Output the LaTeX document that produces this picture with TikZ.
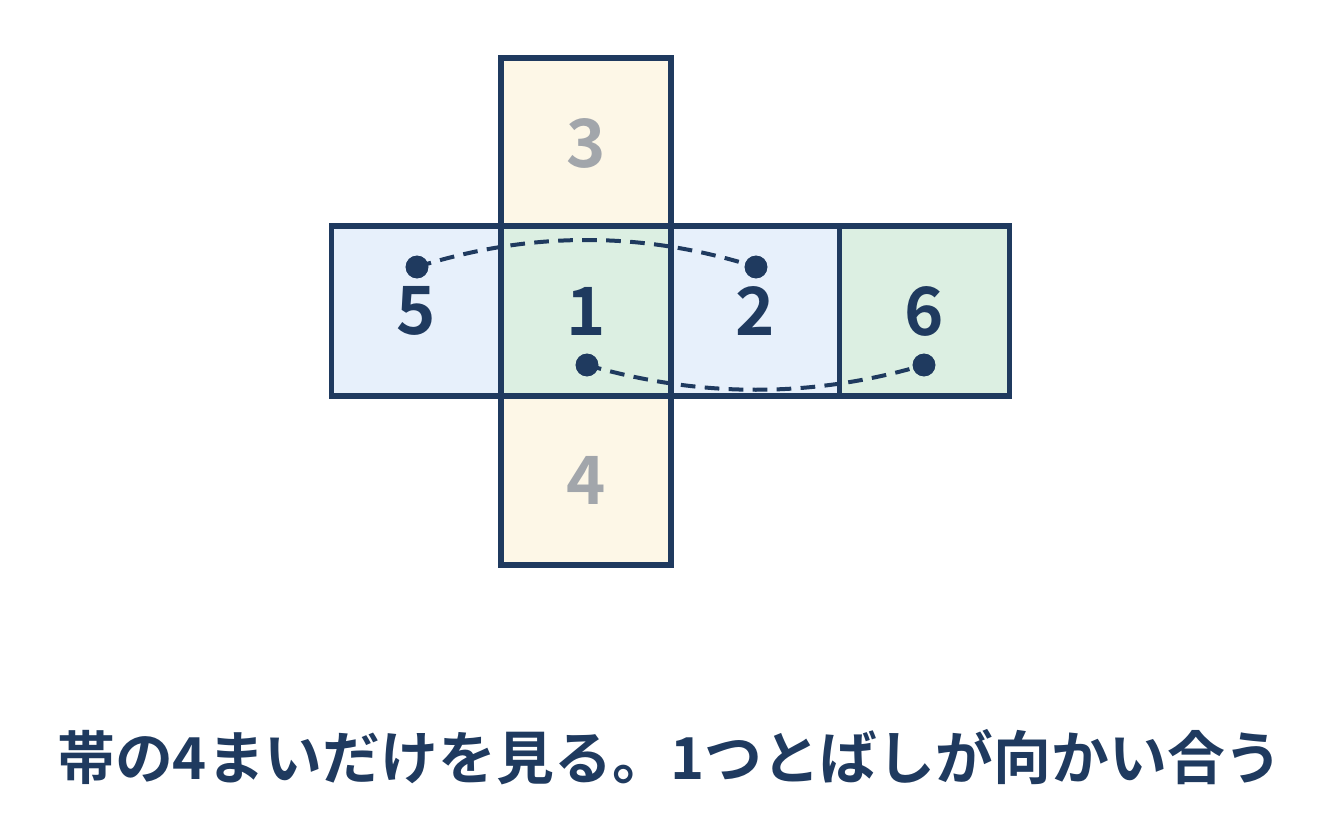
\documentclass[tikz,border=0pt]{standalone}
\usepackage{fontspec}
\setmainfont{Noto Sans CJK JP}[BoldFont={Noto Sans CJK JP Bold}]
\usetikzlibrary{positioning}

\definecolor{navy}{HTML}{1F3A5F}
\definecolor{faceblue}{HTML}{E7F0FB}
\definecolor{facegreen}{HTML}{DCEFE2}
\definecolor{faceyellow}{HTML}{FDF7E7}
\definecolor{numgray}{HTML}{A2A6AB}

\begin{document}
\begin{tikzpicture}[x=0.75pt, y=-0.75pt,
  face/.style={draw=navy, line width=3.8pt, minimum size=127.5pt, inner sep=0pt,
    font=\fontsize{50}{50}\selectfont\bfseries, text=navy},
  dot/.style={circle, fill=navy, minimum size=17pt, inner sep=0pt},
  link/.style={navy, line width=3pt, dash pattern=on 11pt off 7pt}]

\useasboundingbox (0, 0) rectangle (1344, 827);

% faces of the net
\node[face, fill=faceyellow, text=numgray] (f3) at (586, 143) {3};
\node[face, fill=faceyellow, text=numgray] (f4) at (586, 480) {4};
\node[face, fill=faceblue] (f5) at (416.5, 311) {5};
\node[face, fill=faceblue] (f2) at (755.5, 311) {2};
\node[face, fill=facegreen] (f1) at (586, 311) {1};
\node[face, fill=facegreen] (f6) at (924.5, 311) {6};

\node[dot] (d5) at (417, 267) {};
\node[dot] (d2) at (756, 267) {};
\node[dot] (d1) at (587, 365) {};
\node[dot] (d6) at (924, 365) {};

\draw[link] (d5.center) .. controls (530, 231) and (643, 231) .. (d2.center);
\draw[link] (d1.center) .. controls (700, 398) and (812, 398) .. (d6.center);

\node[dot] at (d5) {};
\node[dot] at (d2) {};
\node[dot] at (d1) {};
\node[dot] at (d6) {};

\node[text=navy, font=\fontsize{43.4}{43.4}\selectfont\bfseries] (cap) at (670, 757)
  {帯の4まいだけを見る。1つとばしが向かい合う};

\end{tikzpicture}
\end{document}
